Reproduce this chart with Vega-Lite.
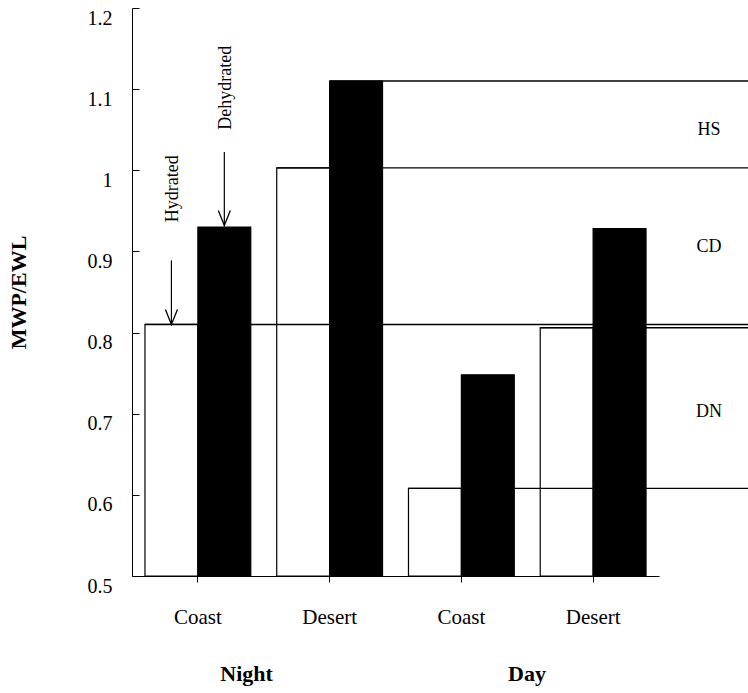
{
  "$schema": "https://vega.github.io/schema/vega-lite/v6.json",
  "width": 616,
  "height": 568,
  "autosize": "none",
  "padding": {"left": 132, "top": 8, "right": 0, "bottom": 117},
  "background": "white",
  "config": {
    "font": "Liberation Serif",
    "view": {"stroke": null},
    "axis": {"labelFont": "Liberation Serif", "titleFont": "Liberation Serif"},
    "text": {"font": "Liberation Serif"}
  },
  "datasets": {
    "bars": [
      {"group": "Night Coast", "state": "Hydrated", "value": 0.81},
      {"group": "Night Coast", "state": "Dehydrated", "value": 0.93},
      {"group": "Night Desert", "state": "Hydrated", "value": 1.003},
      {"group": "Night Desert", "state": "Dehydrated", "value": 1.11},
      {"group": "Day Coast", "state": "Hydrated", "value": 0.608},
      {"group": "Day Coast", "state": "Dehydrated", "value": 0.748},
      {"group": "Day Desert", "state": "Hydrated", "value": 0.806},
      {"group": "Day Desert", "state": "Dehydrated", "value": 0.928}
    ],
    "arrows": [
      {"group": "Night Coast", "state": "Hydrated", "label": "Hydrated", "from": 0.889, "to": 0.81, "textStart": 0.936},
      {"group": "Night Coast", "state": "Dehydrated", "label": "Dehydrated", "from": 1.0225, "to": 0.932, "textStart": 1.05}
    ],
    "zones": [
      {"zone": "HS", "value": 1.05},
      {"zone": "CD", "value": 0.905},
      {"zone": "DN", "value": 0.702}
    ],
    "periods": [
      {"period": "Night", "group": "Night Coast"},
      {"period": "Day", "group": "Day Coast"}
    ]
  },
  "layer": [
    {
      "data": {"name": "bars"},
      "mark": {"type": "bar", "stroke": "black", "strokeWidth": 1.2},
      "encoding": {
        "x": {
          "field": "group",
          "type": "nominal",
          "sort": ["Night Coast", "Night Desert", "Day Coast", "Day Desert"],
          "scale": {"domain": ["Night Coast", "Night Desert", "Day Coast", "Day Desert"], "range": [0, 527], "paddingInner": 0.197, "paddingOuter": 0.0985},
          "axis": {
            "title": null,
            "labelExpr": "split(datum.label, ' ')[1]",
            "labelAngle": 0,
            "labelFont": "Liberation Serif",
            "labelFontSize": 21,
            "labelColor": "black",
            "labelPadding": 24,
            "tickSize": 6,
            "tickColor": "black",
            "domainColor": "black"
          }
        },
        "xOffset": {
          "field": "state",
          "type": "nominal",
          "scale": {"domain": ["Hydrated", "Dehydrated"], "paddingInner": 0, "paddingOuter": 0}
        },
        "y": {
          "field": "value",
          "type": "quantitative",
          "scale": {"domain": [0.5, 1.2], "nice": false, "zero": false},
          "axis": {
            "values": [0.5, 0.6, 0.7, 0.8, 0.9, 1.0, 1.1, 1.2],
            "format": "~g",
            "grid": false,
            "tickSize": -7,
            "tickColor": "black",
            "domainColor": "black",
            "labelPadding": 27,
            "labelFont": "Liberation Serif",
            "labelFontSize": 20,
            "labelColor": "black",
            "labelBaseline": "top",
            "title": "MWP/EWL",
            "titleFont": "Liberation Serif",
            "titleFontSize": 22,
            "titleFontWeight": "bold",
            "titleColor": "black",
            "titlePadding": 57
          }
        },
        "y2": {"datum": 0.5},
        "color": {
          "field": "state",
          "type": "nominal",
          "scale": {"domain": ["Hydrated", "Dehydrated"], "range": ["white", "black"]},
          "legend": null
        }
      }
    },
    {
      "data": {"name": "bars"},
      "transform": [{"filter": "datum.state == 'Hydrated'"}],
      "mark": {"type": "rule", "color": "black", "strokeWidth": 1.4},
      "encoding": {
        "x": {"field": "group", "type": "nominal", "bandPosition": 0},
        "x2": {"value": "width"},
        "y": {"field": "value", "type": "quantitative"}
      }
    },
    {
      "data": {"name": "bars"},
      "transform": [{"filter": "datum.state == 'Dehydrated' && datum.group == 'Night Desert'"}],
      "mark": {"type": "rule", "color": "black", "strokeWidth": 1.4},
      "encoding": {
        "x": {"field": "group", "type": "nominal", "bandPosition": 0.5},
        "x2": {"value": "width"},
        "y": {"field": "value", "type": "quantitative"}
      }
    },
    {
      "data": {"name": "arrows"},
      "mark": {"type": "rule", "color": "black", "strokeWidth": 1.2},
      "encoding": {
        "x": {"field": "group", "type": "nominal"},
        "xOffset": {"field": "state", "type": "nominal"},
        "y": {"field": "from", "type": "quantitative"},
        "y2": {"field": "to"}
      }
    },
    {
      "data": {"name": "arrows"},
      "mark": {"type": "point", "shape": "M-0.5,-1.25L0,0L0.5,-1.25", "size": 576, "filled": false, "color": "black", "strokeWidth": 1.3, "opacity": 1},
      "encoding": {
        "x": {"field": "group", "type": "nominal"},
        "xOffset": {"field": "state", "type": "nominal"},
        "y": {"field": "to", "type": "quantitative"}
      }
    },
    {
      "data": {"name": "arrows"},
      "mark": {"type": "text", "angle": 270, "align": "left", "baseline": "middle", "font": "Liberation Serif", "fontSize": 18, "color": "black", "dy": 2},
      "encoding": {
        "x": {"field": "group", "type": "nominal"},
        "xOffset": {"field": "state", "type": "nominal"},
        "y": {"field": "textStart", "type": "quantitative"},
        "text": {"field": "label"}
      }
    },
    {
      "data": {"name": "zones"},
      "mark": {"type": "text", "align": "center", "baseline": "middle", "font": "Liberation Serif", "fontSize": 18, "color": "black", "dx": -39},
      "encoding": {
        "x": {"value": "width"},
        "y": {"field": "value", "type": "quantitative"},
        "text": {"field": "zone"}
      }
    },
    {
      "data": {"name": "periods"},
      "transform": [{"filter": "datum.period == 'Night'"}],
      "mark": {"type": "text", "align": "center", "baseline": "alphabetic", "font": "Liberation Serif", "fontSize": 22, "fontWeight": "bold", "color": "black", "dy": 105},
      "encoding": {
        "x": {"field": "group", "type": "nominal", "bandPosition": 0.96},
        "y": {"datum": 0.5},
        "text": {"field": "period"}
      }
    },
    {
      "data": {"name": "periods"},
      "transform": [{"filter": "datum.period == 'Day'"}],
      "mark": {"type": "text", "align": "center", "baseline": "alphabetic", "font": "Liberation Serif", "fontSize": 22, "fontWeight": "bold", "color": "black", "dy": 105},
      "encoding": {
        "x": {"field": "group", "type": "nominal", "bandPosition": 1.12},
        "y": {"datum": 0.5},
        "text": {"field": "period"}
      }
    }
  ]
}
